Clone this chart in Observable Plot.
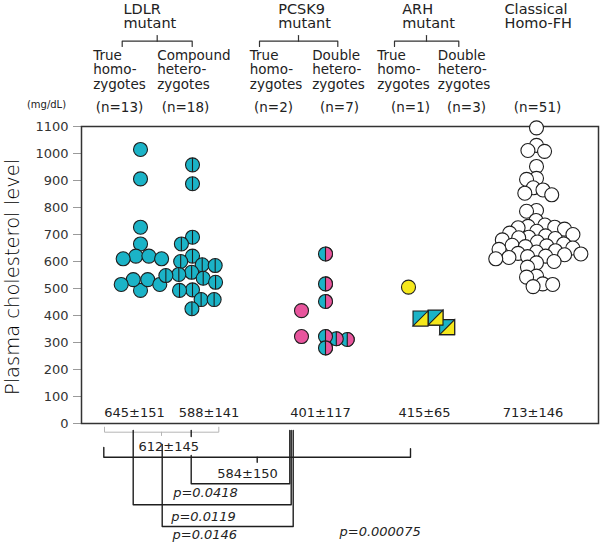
<!DOCTYPE html>
<html>
<head>
<meta charset="utf-8">
<script src="https://cdn.jsdelivr.net/npm/d3@7"></script>
<script src="https://cdn.jsdelivr.net/npm/@observablehq/plot@0.6"></script>
<style>
  html, body { margin: 0; padding: 0; background: #fff; }
  #chart svg { display: block; }
</style>
</head>
<body>
<div id="chart"></div>
<script>
// ---------------- DATA ----------------
const groups = [
  "LDLR true homozygotes", "LDLR compound heterozygotes",
  "PCSK9 true homozygotes", "PCSK9 double heterozygotes",
  "ARH true homozygotes", "ARH double heterozygotes",
  "Classical Homo-FH"
];
// plasma cholesterol (mg/dL)
const ldlrTrueHomo = [1015, 906, 727, 665, 620, 620, 610, 610, 493, 533, 533, 515, 515];
const ldlrCompoundHetero = [958, 888, 690, 665, 620, 600, 588, 585, 560, 552, 548, 538, 523, 495, 493, 459, 459, 425];
const pcsk9TrueHomo = [418, 322];
const pcsk9DoubleHetero = [628, 517, 452, 322, 280, 314, 311];
const arhTrueHomo = [505];
const arhDoubleHetero = [392, 389, 357];
const classicalHomoFH = [1095, 1030, 1011, 1008, 952, 908, 904, 873, 865, 853, 847, 789, 786,
  752, 735, 730, 727, 725, 720, 712, 705, 700, 695, 690, 688, 685, 680, 672, 665, 660, 658,
  655, 650, 645, 640, 635, 630, 628, 625, 620, 618, 615, 610, 600, 595, 579, 546, 542, 517, 515, 507];

const geneLabels = ["LDLR\nmutant", "PCSK9\nmutant", "ARH\nmutant", "Classical\nHomo-FH"];
const subLabels = ["True\nhomo-\nzygotes", "Compound\nhetero-\nzygotes", "True\nhomo-\nzygotes",
  "Double\nhetero-\nzygotes", "True\nhomo-\nzygotes", "Double\nhetero-\nzygotes"];
const nLabels = ["(n=13)", "(n=18)", "(n=2)", "(n=7)", "(n=1)", "(n=3)", "(n=51)"];
const meanSdLabels = ["645±151", "588±141", "401±117", "415±65", "713±146"];
const pooledLabels = ["612±145", "584±150"];
const pLabels = ["p=0.0418", "p=0.0119", "p=0.0146", "p=0.000075"];
const yTicks = [0, 100, 200, 300, 400, 500, 600, 700, 800, 900, 1000, 1100];

// ---------------- LAYOUT (pixels) ----------------
const W = 600, H = 542;
const M = {left: 81, right: 2, top: 126, bottom: 119};
const midX = (M.left + W - M.right) / 2;       // dodge "middle" anchor
const groupCenter = [140, 192, 301, 321, 408, 435, 536];
const yS = Plot.scale({y: {domain: [0, 1100], range: [H - M.bottom, M.top]}});
const py = (px) => yS.invert(px);               // pixel row -> y value (annotations)

const cyan = "#1bb3c7", pink = "#e8559d", yellow = "#f5e81c", ink = "#1e1e1e";

// custom symbols
const vline = {draw(ctx, size) { const r = Math.sqrt(size / Math.PI); ctx.moveTo(0, -r); ctx.lineTo(0, r); }};
const halfRight = {draw(ctx, size) { const r = Math.sqrt(size / Math.PI); ctx.moveTo(0, -r); ctx.arc(0, 0, r, -Math.PI / 2, Math.PI / 2); ctx.closePath(); }};
const square = {draw(ctx, size) { const s = Math.sqrt(size / Math.PI); ctx.rect(-s, -s, 2 * s, 2 * s); }};
const lowerRight = {draw(ctx, size) { const s = Math.sqrt(size / Math.PI); ctx.moveTo(s, -s); ctx.lineTo(s, s); ctx.lineTo(-s, s); ctx.closePath(); }};

function swarm(values, gi, padding, opts, anchor = "middle") {
  const base = anchor === "middle" ? midX : M.left;
  return Plot.dot(values, Plot.dodgeX({anchor, padding},
    {y: (d) => d, r: 7, dx: groupCenter[gi] - base, stroke: ink, strokeWidth: 1.1, ...opts}));
}

// ---------------- ANNOTATION GEOMETRY ----------------
const geneX = [123, 277.7, 401.7, 504];
const subX = [92.7, 156.7, 249.3, 311.7, 376.7, 437.3];
const nX = [119, 185, 273, 339, 410, 466, 537];
const statX = [134, 208.5, 320, 424, 532.5];

const headerBrackets = [
  [[121.7, 46], [121.7, 40.7], [191.7, 40.7], [191.7, 46]], [[156.7, 40.7], [156.7, 35]],
  [[259, 46], [259, 40.7], [337.3, 40.7], [337.3, 46]], [[298, 40.7], [298, 35]],
  [[394, 46], [394, 40.7], [458.3, 40.7], [458.3, 46]], [[426, 40.7], [426, 35]]
];
const grayBracket = [
  [[104, 426.7], [104, 431.7], [218.3, 431.7], [218.3, 426.7]], [[161, 431.7], [161, 435]]
];
const blackLines = [
  [[103.3, 447], [103.3, 456.7], [410, 456.7], [410, 448.3]], [[256.7, 456.7], [256.7, 461.7]],
  [[190.7, 430], [190.7, 436]],
  [[190.7, 455], [190.7, 483.3], [289.3, 483.3], [289.3, 430]],
  [[132.7, 430], [132.7, 504.3], [290.7, 504.3], [290.7, 430]],
  [[161.7, 444], [161.7, 526], [292.7, 526], [292.7, 430]]
];
const toSegs = (lines) => lines.flatMap((pts, id) => pts.map(([x, y]) => ({id, x, y: py(y)})));

const svg = Plot.plot({
  width: W, height: H,
  marginLeft: M.left, marginRight: M.right, marginTop: M.top, marginBottom: M.bottom,
  x: {domain: [M.left, W - M.right], axis: null},
  y: {domain: [0, 1100], axis: null},
  style: {fontFamily: "'DejaVu Sans', Verdana, sans-serif", background: "#fff", color: ink},
  marks: [
    Plot.axisY({ticks: yTicks, tickFormat: (d) => String(d), tickSize: 8, tickPadding: 5, label: null, fontSize: 13, stroke: "#9a9a9a", fill: "#333"}),
    Plot.frame({stroke: "#333", strokeWidth: 1.5}),

    // LDLR
    swarm(ldlrTrueHomo, 0, -1, {fill: cyan}),
    swarm(ldlrCompoundHetero, 1, -1, {fill: cyan}),
    swarm(ldlrCompoundHetero, 1, -1, {symbol: vline, fill: "none"}),
    // PCSK9
    swarm(pcsk9TrueHomo, 2, 0, {fill: pink}),
    swarm(pcsk9DoubleHetero, 3, -3, {fill: cyan}, "left"),
    swarm(pcsk9DoubleHetero, 3, -3, {symbol: halfRight, fill: pink}, "left"),
    // ARH
    swarm(arhTrueHomo, 4, 0, {fill: yellow}),
    swarm(arhDoubleHetero, 5, 0, {r: 7.5, symbol: square, fill: cyan}),
    swarm(arhDoubleHetero, 5, 0, {r: 7.5, symbol: lowerRight, fill: yellow}),
    // Classical
    swarm(classicalHomoFH, 6, -4, {fill: "#fff"}),

    // mean ± SD under each gene group
    Plot.text(meanSdLabels, {x: (d, i) => statX[i], y: py(416), text: (d) => d, fontSize: 13, lineAnchor: "bottom", fill: "#222"}),

    // header: gene labels, subgroup labels, n
    Plot.text(geneLabels, {x: (d, i) => geneX[i], y: py(27.5), text: (d) => d, textAnchor: "start", lineAnchor: "bottom", fontSize: 14.5, lineHeight: 1.0, fill: "#222"}),
    Plot.text(subLabels, {x: (d, i) => subX[i], y: py(88.5), text: (d) => d, textAnchor: "start", lineAnchor: "bottom", fontSize: 13.5, lineHeight: 1.08, fill: "#222"}),
    Plot.text(nLabels, {x: (d, i) => nX[i], y: py(111.5), text: (d) => d, lineAnchor: "bottom", fontSize: 13.5, fill: "#222"}),
    Plot.text(["(mg/dL)"], {x: 46, y: py(107.5), text: (d) => d, lineAnchor: "bottom", fontSize: 10, fill: "#222"}),
    Plot.line(toSegs(headerBrackets), {x: "x", y: "y", z: "id", stroke: "#333", strokeWidth: 1.2}),

    // y title
    Plot.text(["Plasma cholesterol level"], {x: 18, y: py(276.5), text: (d) => d, rotate: -90, lineAnchor: "bottom", fontSize: 19.5, fontWeight: 300, fill: "#000"}),

    // comparisons below the frame
    Plot.line(toSegs(grayBracket), {x: "x", y: "y", z: "id", stroke: "#b5b5b5", strokeWidth: 1}),
    Plot.line(toSegs(blackLines), {x: "x", y: "y", z: "id", stroke: "#1e1e1e", strokeWidth: 1.4}),
    Plot.text(pooledLabels, {x: (d, i) => [138, 216.7][i], y: (d, i) => py([450.7, 477.3][i]), text: (d) => d, textAnchor: "start", lineAnchor: "bottom", fontSize: 13, fill: "#222"}),
    Plot.text(pLabels, {x: (d, i) => [172.7, 170.7, 172, 339][i], y: (d, i) => py([496, 520, 538.3, 535][i]), text: (d) => d, textAnchor: "start", lineAnchor: "bottom", fontSize: 13, fontStyle: "italic", fill: "#222"})
  ]
});
document.getElementById("chart").append(svg);
</script>
</body>
</html>
